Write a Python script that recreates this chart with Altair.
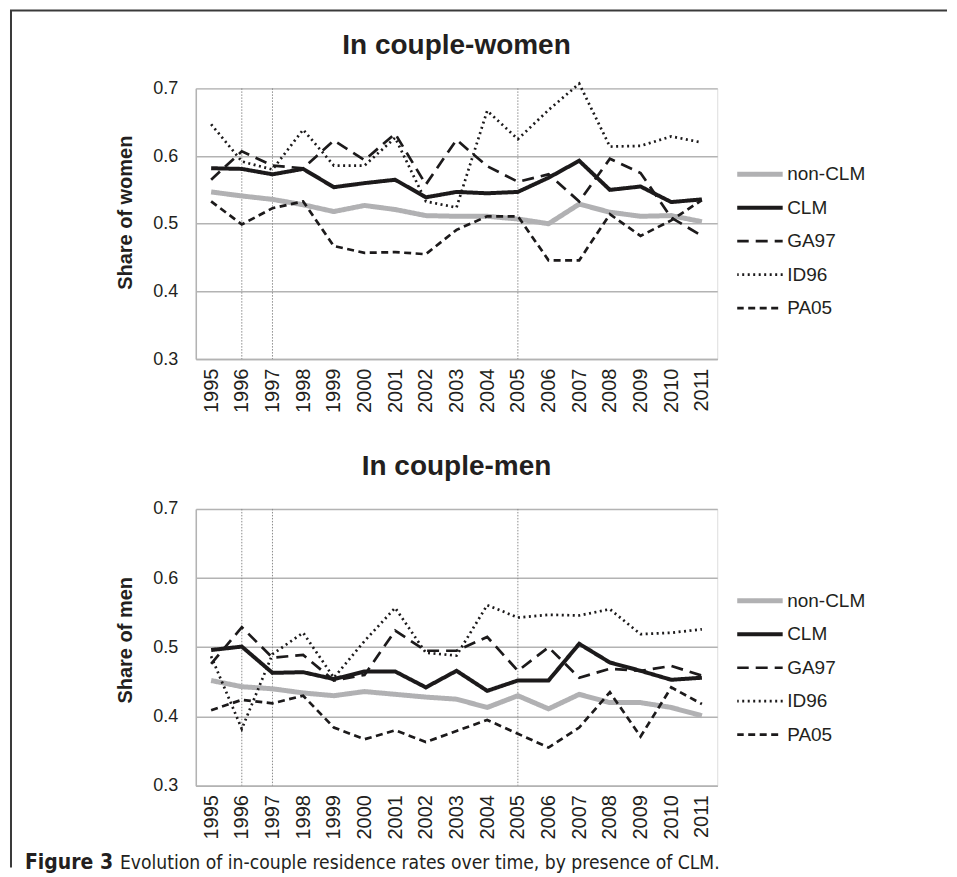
import altair as alt
import pandas as pd

years = [str(y) for y in range(1995, 2012)]
series = ["non-CLM", "CLM", "GA97", "ID96", "PA05"]
marker_years = ["1996", "1997", "2005"]
y_ticks = [0.3, 0.4, 0.5, 0.6, 0.7]
panel_titles = ["In couple-women", "In couple-men"]
axis_titles = ["Share of women", "Share of men"]

# In couple - women
non_clm_w = [0.547, 0.541, 0.536, 0.528, 0.518, 0.527, 0.521, 0.512, 0.511, 0.511, 0.507, 0.500, 0.529, 0.517, 0.511, 0.512, 0.503]
clm_w = [0.582, 0.581, 0.573, 0.581, 0.554, 0.560, 0.565, 0.539, 0.547, 0.545, 0.547, 0.568, 0.593, 0.550, 0.555, 0.532, 0.536]
ga97_w = [0.565, 0.607, 0.586, 0.582, 0.623, 0.594, 0.633, 0.558, 0.624, 0.585, 0.562, 0.573, 0.533, 0.596, 0.575, 0.509, 0.482]
id96_w = [0.647, 0.592, 0.580, 0.639, 0.586, 0.586, 0.627, 0.533, 0.524, 0.667, 0.625, 0.668, 0.707, 0.614, 0.615, 0.629, 0.620]
pa05_w = [0.533, 0.499, 0.523, 0.533, 0.467, 0.457, 0.458, 0.455, 0.491, 0.511, 0.511, 0.446, 0.446, 0.514, 0.482, 0.505, 0.535]

# In couple - men
non_clm_m = [0.452, 0.443, 0.440, 0.434, 0.430, 0.436, 0.432, 0.428, 0.425, 0.413, 0.430, 0.411, 0.432, 0.420, 0.420, 0.413, 0.401]
clm_m = [0.496, 0.501, 0.463, 0.464, 0.454, 0.465, 0.465, 0.442, 0.466, 0.437, 0.452, 0.452, 0.505, 0.478, 0.466, 0.453, 0.456]
ga97_m = [0.476, 0.529, 0.485, 0.489, 0.452, 0.460, 0.524, 0.495, 0.495, 0.515, 0.466, 0.500, 0.456, 0.469, 0.466, 0.473, 0.459]
id96_m = [0.487, 0.382, 0.490, 0.521, 0.456, 0.509, 0.557, 0.492, 0.488, 0.561, 0.543, 0.547, 0.546, 0.555, 0.519, 0.521, 0.526]
pa05_m = [0.409, 0.424, 0.419, 0.430, 0.384, 0.367, 0.380, 0.363, 0.379, 0.395, 0.375, 0.355, 0.384, 0.435, 0.371, 0.442, 0.418]

caption_bold = ["Figure 3"]
caption_rest = ["Evolution of in-couple residence rates over time, by presence of CLM."]

FONT = "Liberation Sans"
CAP_FONT = "Liberation Sans Narrow, DejaVu Sans Condensed, Liberation Sans"
TEXT = "#231f20"
GRID = "#b3b3b3"

colors = ["#b1b1b3", "#1c1a1b", "#1c1a1b", "#1c1a1b", "#1c1a1b"]
dashes = [[1, 0], [1, 0], [12, 7], [2, 3.5], [7, 4.5]]
width_expr = "datum.value === 'non-CLM' ? 5 : datum.value === 'CLM' ? 4 : 2.7"


def make_df(cols):
    rows = []
    for s, vals in zip(series, cols):
        for yr, v in zip(years, vals):
            rows.append({"year": yr, "value": v, "series": s})
    return pd.DataFrame(rows)


def panel(cols, title, ytitle, height, title_y, legend_y, extra=None):
    df = make_df(cols)
    x_enc = alt.X(
        "year:O",
        scale=alt.Scale(type="point", padding=0.5, domain=years),
        axis=alt.Axis(
            title=None, labelAngle=-90, labelFontSize=20, labelFont=FONT,
            labelColor=TEXT, labelPadding=9, ticks=False, tickSize=0,
            domainColor=GRID, domainWidth=1.5, grid=False,
        ),
    )
    legend = alt.Legend(
        title=None, orient="none", legendX=542, legendY=legend_y,
        symbolType="stroke", symbolSize=2116, symbolOffset=13,
        labelFontSize=19, labelFont=FONT, labelColor=TEXT, labelOffset=18,
        clipHeight=20, rowPadding=13.5,
        symbolStrokeWidth=alt.ExprRef(expr=width_expr),
    )
    lines = alt.Chart(df).mark_line().encode(
        x=x_enc,
        y=alt.Y(
            "value:Q",
            scale=alt.Scale(domain=[0.3, 0.7], nice=False, zero=False),
            axis=alt.Axis(
                values=y_ticks, format=".1f", title=ytitle, titleFontSize=20,
                titleFontWeight="bold", titleFont=FONT, titleColor=TEXT,
                titleX=-64, titleY=title_y, titleBaseline="alphabetic", titleAngle=270,
                grid=True, gridColor=GRID, gridWidth=1.5, domainColor=GRID,
                domainWidth=1.5, ticks=False, tickSize=0, labelPadding=18,
                labelFontSize=18, labelFont=FONT, labelColor=TEXT,
            ),
        ),
        color=alt.Color("series:N", scale=alt.Scale(domain=series, range=colors),
                        sort=series, legend=legend),
        strokeDash=alt.StrokeDash("series:N", scale=alt.Scale(domain=series, range=dashes),
                                  sort=series, legend=legend),
        strokeWidth={
            "condition": [
                {"test": "datum.series === 'non-CLM'", "value": 5},
                {"test": "datum.series === 'CLM'", "value": 4},
            ],
            "value": 2.7,
        },
    )
    vrules = alt.Chart(pd.DataFrame({"year": marker_years})).mark_rule(
        color="#8c8c8c", strokeDash=[1.5, 1.5], strokeWidth=1
    ).encode(x=x_enc)
    title_mark = alt.Chart(pd.DataFrame({"t": [title]})).mark_text(
        align="center", baseline="alphabetic", font=FONT, fontSize=28,
        fontWeight="bold", color=TEXT,
    ).encode(x=alt.value(261), y=alt.value(-34), text="t:N")
    layers = [vrules, lines, title_mark]
    if extra:
        layers += extra
    return alt.layer(*layers).properties(width=522, height=height)


one = pd.DataFrame({"k": [0]})
frame_top = alt.Chart(one).mark_rule(color="#3a3a3a", strokeWidth=2).encode(
    x=alt.value(-186), x2=alt.value(752), y=alt.value(-78))
frame_left = alt.Chart(one).mark_rule(color="#3a3a3a", strokeWidth=2).encode(
    x=alt.value(-185), y=alt.value(-78), y2=alt.value(780))

cap1 = alt.Chart(pd.DataFrame({"t": caption_bold})).mark_text(
    align="left", baseline="alphabetic", font=CAP_FONT, fontSize=21,
    fontWeight="bold", color=TEXT,
).encode(x=alt.value(-171), y=alt.value(360), text="t:N")
cap2 = alt.Chart(pd.DataFrame({"t": caption_rest})).mark_text(
    align="left", baseline="alphabetic", font=CAP_FONT, fontSize=19.2,
    color=TEXT,
).encode(x=alt.value(-76), y=alt.value(360), text="t:N")

top = panel([non_clm_w, clm_w, ga97_w, id96_w, pa05_w], panel_titles[0],
            axis_titles[0], 271, 124, 76, extra=[frame_top, frame_left])
bottom = panel([non_clm_m, clm_m, ga97_m, id96_m, pa05_m], panel_titles[1],
               axis_titles[1], 277, 131, 82, extra=[cap1, cap2])

chart = alt.vconcat(top, bottom, spacing=150, bounds="flush").resolve_scale(
    x="independent", y="independent", color="independent", strokeDash="independent"
).properties(
    padding={"left": 0, "top": 0, "right": 0, "bottom": 0}
).configure_view(stroke=None).configure(background="white")

chart.save("out.html", embed_options={"renderer": "svg", "actions": False})
